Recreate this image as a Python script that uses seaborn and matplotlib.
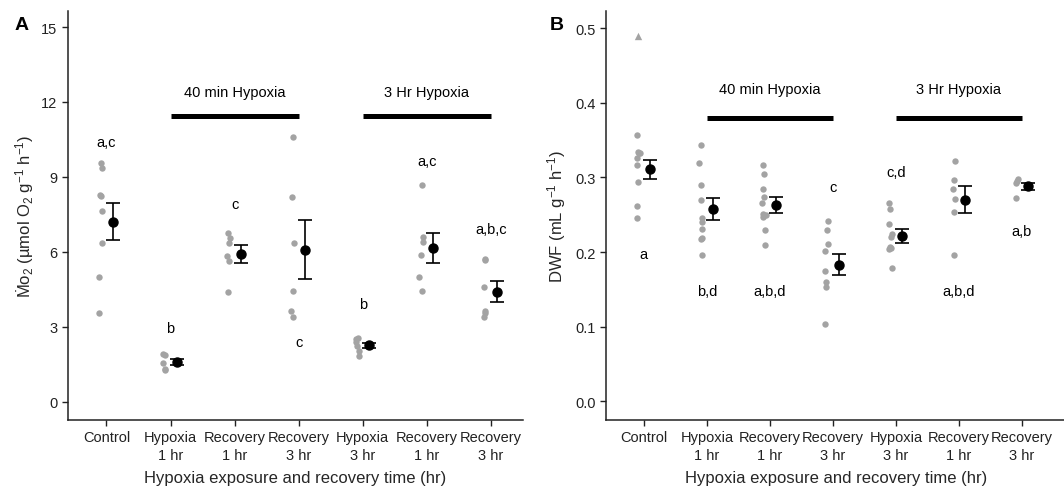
import numpy as np
import pandas as pd
import matplotlib
matplotlib.use("Agg")
import matplotlib.pyplot as plt
import seaborn as sns

# ---------------- data ----------------
groups = ["Control", "Hyp40_1", "Rec40_1", "Rec40_3", "Hyp3_3", "Rec3_1", "Rec3_3"]
tick_labels = ["Control", "Hypoxia\n1 hr", "Recovery\n1 hr", "Recovery\n3 hr",
               "Hypoxia\n3 hr", "Recovery\n1 hr", "Recovery\n3 hr"]

# Panel A: MO2 individual values
mo2_control = [9.55, 9.35, 8.3, 8.25, 7.65, 6.35, 5.0, 3.55]
mo2_hyp40_1 = [1.92, 1.88, 1.58, 1.32, 1.30]
mo2_rec40_1 = [6.76, 6.56, 6.36, 5.85, 5.65, 4.40]
mo2_rec40_3 = [10.6, 8.2, 6.35, 4.45, 3.65, 3.40]
mo2_hyp3_3 = [2.55, 2.52, 2.40, 2.25, 2.05, 1.85]
mo2_rec3_1 = [8.7, 6.6, 6.4, 5.9, 5.0, 4.45]
mo2_rec3_3 = [5.72, 5.68, 4.62, 3.64, 3.55, 3.42]
mo2_mean = [7.22, 1.60, 5.92, 6.10, 2.27, 6.16, 4.42]
mo2_se = [0.74, 0.13, 0.35, 1.18, 0.10, 0.60, 0.43]
mo2_letters = ["a,c", "b", "c", "c", "b", "a,c", "a,b,c"]
mo2_letter_y = [10.4, 2.95, 7.9, 2.4, 3.93, 9.63, 6.92]

# Panel B: DWF individual values
dwf_control = [0.357, 0.334, 0.333, 0.333, 0.326, 0.316, 0.294, 0.262, 0.245]
dwf_hyp40_1 = [0.344, 0.320, 0.290, 0.270, 0.245, 0.240, 0.231, 0.219, 0.218, 0.196]
dwf_rec40_1 = [0.317, 0.305, 0.285, 0.274, 0.266, 0.251, 0.250, 0.247, 0.230, 0.210]
dwf_rec40_3 = [0.241, 0.230, 0.211, 0.201, 0.175, 0.160, 0.153, 0.103]
dwf_hyp3_3 = [0.266, 0.258, 0.238, 0.224, 0.220, 0.207, 0.205, 0.204, 0.179]
dwf_rec3_1 = [0.322, 0.296, 0.285, 0.271, 0.254, 0.196]
dwf_rec3_3 = [0.298, 0.295, 0.292, 0.273]
dwf_mean = [0.311, 0.258, 0.263, 0.183, 0.222, 0.270, 0.288]
dwf_se = [0.0125, 0.015, 0.011, 0.014, 0.0095, 0.018, 0.0045]
dwf_letters = ["a", "b,d", "a,b,d", "c", "c,d", "a,b,d", "a,b"]
dwf_letter_y = [0.198, 0.148, 0.148, 0.287, 0.307, 0.148, 0.228]
dwf_outlier_group = ["Control"]
dwf_outlier_value = [0.489]

periods = ["40 min Hypoxia", "3 Hr Hypoxia"]
period_start = [1, 4]
period_end = [3, 6]

# ---------------- style ----------------
sns.set_theme(style="ticks")
plt.rcParams.update({
    "font.family": ["Liberation Sans", "DejaVu Sans"],
    "mathtext.fontset": "custom",
    "mathtext.rm": "Liberation Sans",
    "mathtext.it": "Liberation Sans:italic",
    "mathtext.bf": "Liberation Sans:bold",
    "axes.edgecolor": "#222222",
    "axes.linewidth": 1.1,
    "xtick.color": "#222222",
    "ytick.color": "#222222",
    "xtick.major.size": 4,
    "ytick.major.size": 4,
    "xtick.major.width": 1.0,
    "ytick.major.width": 1.0,
    "text.color": "black",
})

GRAY = "#a3a3a3"
W, H = 1064, 489
fig = plt.figure(figsize=(W / 100, H / 100), dpi=100)
axA = fig.add_axes([68 / W, 1 - 421 / H, (523 - 68) / W, (421 - 12) / H])
axB = fig.add_axes([606 / W, 1 - 421 / H, (1066 - 606) / W, (421 - 12) / H])

np.random.seed(3)


def draw_panel(ax, series, means, ses, letters, letter_y, ylim, yticks, ytickfmt,
               bar_y, bar_text_y, ylabel, xlim, ylabelpad):
    df = pd.DataFrame({
        "group": np.concatenate([[g] * len(v) for g, v in zip(groups, series)]),
        "value": np.concatenate(series),
    })
    n_before = len(ax.collections)
    sns.stripplot(data=df, x="group", y="value", order=groups, color=GRAY,
                  size=4.6, jitter=0.035, linewidth=0, ax=ax, zorder=2)
    for coll in ax.collections[n_before:]:
        offs = coll.get_offsets()
        if len(offs):
            coll.set_offsets(offs + np.array([-0.09, 0.0]))
    xpos = np.arange(len(groups)) + 0.1
    ax.errorbar(xpos, means, yerr=ses, fmt="o", color="black", ms=6.5,
                capsize=4.8, elinewidth=1.2, capthick=1.2, zorder=3)
    for i, (t, y) in enumerate(zip(letters, letter_y)):
        ax.text(i, y, t, ha="center", va="center", fontsize=10.5)
    for name, s, e in zip(periods, period_start, period_end):
        ax.plot([s, e], [bar_y, bar_y], color="black", lw=3.6,
                solid_capstyle="butt", zorder=3)
        ax.text((s + e) / 2, bar_text_y, name, ha="center", va="center", fontsize=10.5)
    ax.set_xlim(*xlim)
    ax.set_ylim(*ylim)
    ax.set_yticks(yticks)
    ax.set_yticklabels([ytickfmt.format(v) for v in yticks], fontsize=10.5)
    ax.set_xticks(range(len(groups)))
    ax.set_xticklabels(tick_labels, fontsize=10.5, linespacing=1.3)
    ax.set_xlabel("Hypoxia exposure and recovery time (hr)", fontsize=12, labelpad=6)
    ax.set_ylabel(ylabel, fontsize=12, labelpad=ylabelpad)
    sns.despine(ax=ax)
    ax.set_facecolor("white")


draw_panel(axA,
           [mo2_control, mo2_hyp40_1, mo2_rec40_1, mo2_rec40_3, mo2_hyp3_3, mo2_rec3_1, mo2_rec3_3],
           mo2_mean, mo2_se, mo2_letters, mo2_letter_y,
           ylim=(-0.72, 15.64), yticks=[0, 3, 6, 9, 12, 15], ytickfmt="{:g}",
           bar_y=11.45, bar_text_y=12.4,
           ylabel="\u1E40o$_2$ (µmol O$_2$ g$^{-1}$ h$^{-1}$)",
           xlim=(-0.6, 6.5), ylabelpad=4)

draw_panel(axB,
           [dwf_control, dwf_hyp40_1, dwf_rec40_1, dwf_rec40_3, dwf_hyp3_3, dwf_rec3_1, dwf_rec3_3],
           dwf_mean, dwf_se, dwf_letters, dwf_letter_y,
           ylim=(-0.025, 0.523), yticks=[0.0, 0.1, 0.2, 0.3, 0.4, 0.5], ytickfmt="{:.1f}",
           bar_y=0.379, bar_text_y=0.418,
           ylabel=r"DWF (mL g$^{-1}$ h$^{-1}$)",
           xlim=(-0.6, 6.7), ylabelpad=5)

# outlier triangle in panel B
out_x = [groups.index(g) - 0.09 for g in dwf_outlier_group]
axB.scatter(out_x, dwf_outlier_value, marker="^", s=28, color=GRAY, linewidths=0, zorder=2)

fig.text(22 / W, 1 - 25 / H, "A", fontsize=14, fontweight="bold", ha="center", va="center")
fig.text(557 / W, 1 - 25 / H, "B", fontsize=14, fontweight="bold", ha="center", va="center")

fig.savefig("out.png", dpi=100, facecolor="white")
